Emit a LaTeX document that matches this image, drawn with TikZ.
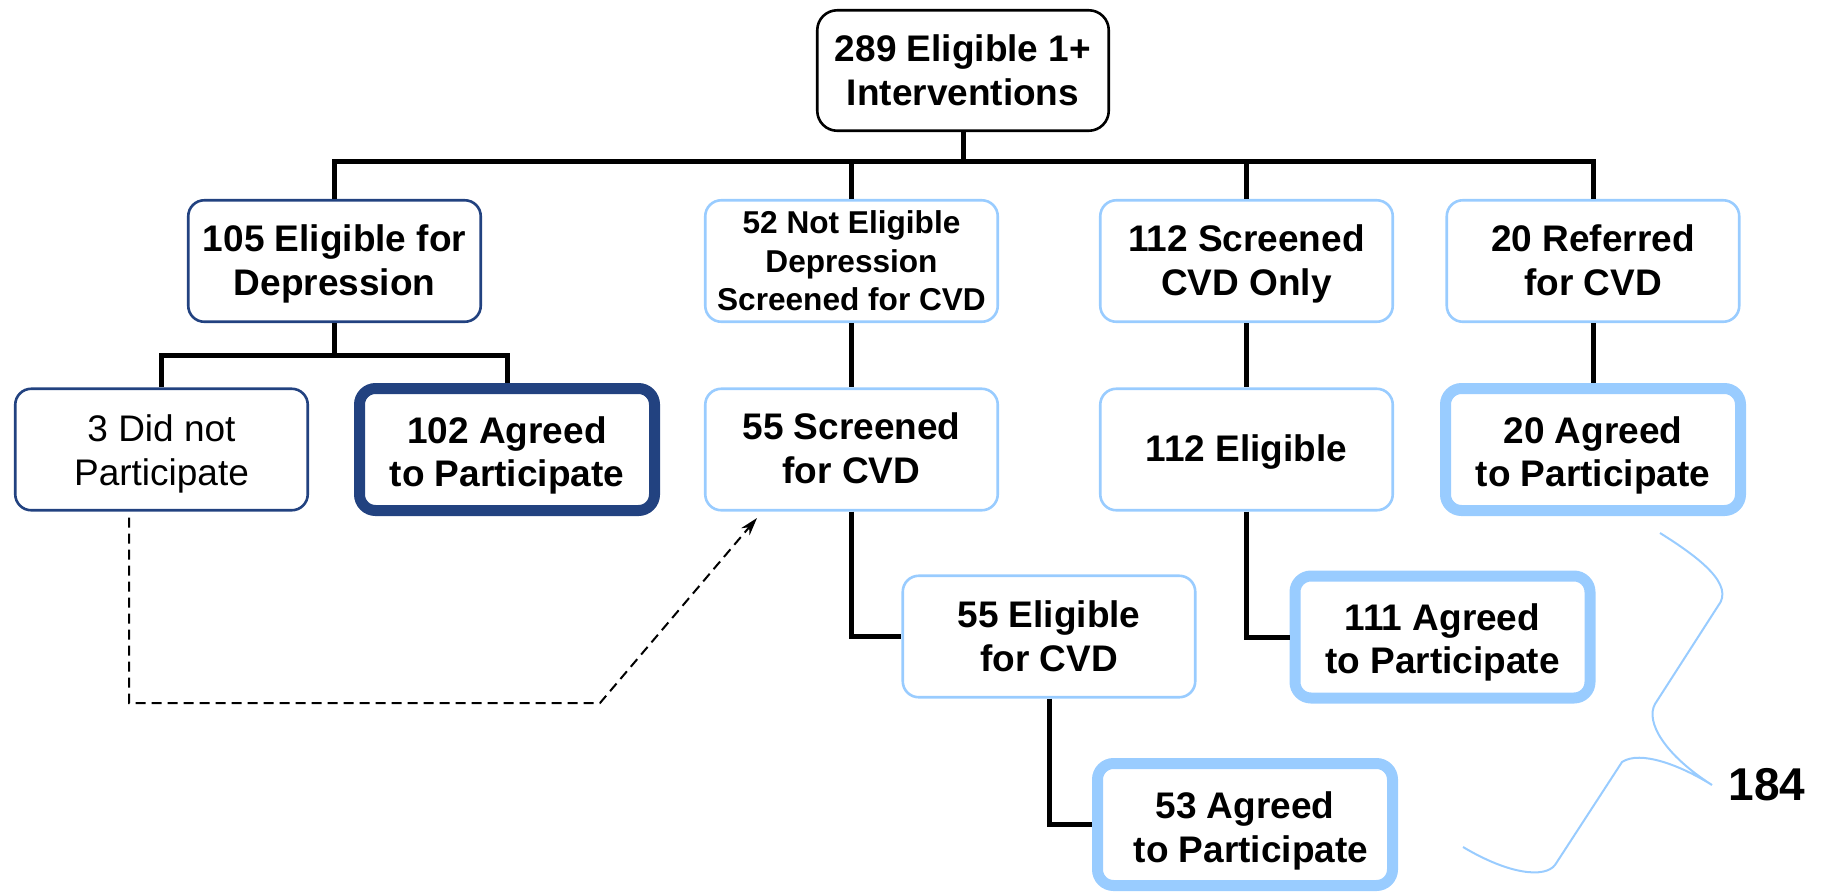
\documentclass[tikz,border=0pt]{standalone}
\usepackage{fontspec}
\setmainfont{Liberation Sans}
\usetikzlibrary{arrows.meta}
\definecolor{darkblue}{RGB}{34,66,128}
\definecolor{lightblue}{RGB}{153,204,255}
\newcommand{\tx}[2]{\raisebox{-#1}[\height][\depth]{\begin{tabular}{@{}c@{}}#2\end{tabular}}}
\tikzset{
  box/.style={draw, rounded corners=8pt, fill=white, align=center, inner sep=0pt,
    minimum width=146.25pt, minimum height=60.75pt, line width=1.3pt,
    font=\fontsize{18.5}{21.8}\selectfont\bfseries},
  thinlight/.style={box, draw=lightblue},
  thindark/.style={box, draw=darkblue},
  thicklight/.style={box, draw=lightblue, line width=5.5pt, minimum width=147.5pt, minimum height=61pt},
  thickdark/.style={box, draw=darkblue, line width=5.5pt, minimum width=147.5pt, minimum height=61pt},
  conn/.style={draw=black, line width=2.5pt},
  dashconn/.style={draw=black, line width=1pt, dash pattern=on 5pt off 3pt, -{Stealth[length=9pt,width=5.5pt]}},
  bracestyle/.style={draw=lightblue, line width=1pt},
}
\begin{document}
\begin{tikzpicture}[x=0.5pt, y=-0.5pt]
\useasboundingbox (0,0) rectangle (1827,891);

% top
\node[box, draw=black, rounded corners=10pt, minimum width=145.75pt, minimum height=60.25pt] (top) at (963,70.5) {\tx{2.2pt}{289 Eligible 1+\\Interventions}};

% row 2
\node[thindark] (A) at (334.5,261) {\tx{2pt}{105 Eligible for\\Depression}};
\node[thinlight, font=\fontsize{15.8}{19.3}\selectfont\bfseries] (B) at (851.5,261) {\tx{1.8pt}{52 Not Eligible\\Depression\\Screened for CVD}};
\node[thinlight] (C) at (1246.5,261) {\tx{2pt}{112 Screened\\CVD Only}};
\node[thinlight] (D) at (1593,261) {\tx{2pt}{20 Referred\\for CVD}};

% row 3
\node[thindark, font=\fontsize{18.5}{21.8}\selectfont] (E) at (161.5,449.5) {\tx{2.5pt}{3 Did not\\Participate}};
\node[thickdark] (F) at (507,449.5) {\tx{3.3pt}{102 Agreed\\to Participate}};
\node[thinlight] (G) at (851.5,449.5) {\tx{1.5pt}{55 Screened\\for CVD}};
\node[thinlight] (H) at (1246.5,449.5) {\tx{1.8pt}{112 Eligible}};
\node[thicklight] (I) at (1593,449.5) {\tx{3.3pt}{20 Agreed\\to Participate}};

% row 4
\node[thinlight] (J) at (1049,636.5) {\tx{2.2pt}{55 Eligible\\for CVD}};
\node[thicklight] (K) at (1442.5,637) {\tx{3.2pt}{111 Agreed\\to Participate}};

% row 5
\node[thicklight] (L) at (1245,824.5) {\tx{3.5pt}{53 Agreed\\\hspace*{6pt}to Participate}};

% total
\node[font=\fontsize{23}{27}\selectfont\bfseries, inner sep=0pt] (total) at (1767,785) {184};

% connectors
\coordinate (bus) at (0,161);
\coordinate (busA) at (0,355);
\draw[conn] (top.south) -- (top.south |- bus);
\draw[conn] (A.north) -- (A.north |- bus) -| (D.north);
\draw[conn] (B.north) -- (B.north |- bus);
\draw[conn] (C.north) -- (C.north |- bus);

\draw[conn] (A.south) -- (A.south |- busA);
\draw[conn] (E.north) -- (E.north |- busA) -| (F.north);

\draw[conn] (B.south) -- (G.north);
\draw[conn] (C.south) -- (H.north);
\draw[conn] (D.south) -- (I.north);

\draw[conn] (G.south) |- (J.west);
\draw[conn] (H.south) |- (K.west);
\draw[conn] (J.south) |- (L.west);

% dashed arrow
\coordinate (d1) at (129,703);
\coordinate (d2) at (600,703);
\coordinate (dtip) at (757,518);
\draw[dashconn] ([xshift=-16.25pt,yshift=-3pt]E.south) -- (d1) -- (d2) -- (dtip);

% brace
\draw[bracestyle] (1660,533) .. controls (1700,558) and (1735,585) .. (1718,606)
  -- (1655,704) .. controls (1645,722) and (1665,755) .. (1712,785)
  .. controls (1680,765) and (1640,750) .. (1622,762)
  -- (1555,865) .. controls (1545,878) and (1510,875) .. (1463,847);
\end{tikzpicture}
\end{document}
